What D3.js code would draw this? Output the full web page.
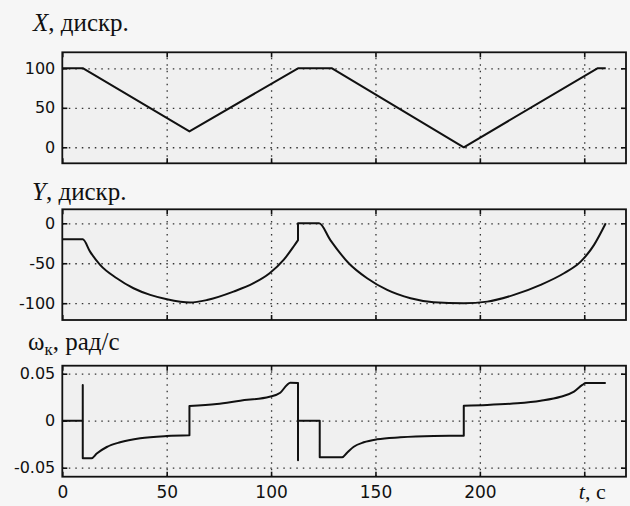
<!DOCTYPE html>
<html><head><meta charset="utf-8">
<script src="https://cdn.jsdelivr.net/npm/d3@7"></script>
<style>body{margin:0;background:#f6f6f6;} svg{display:block;}</style>
</head><body><svg id="c" width="630" height="506"></svg>
<script>
// ---- data ----
const timeTicks = [0, 50, 100, 150, 200, 250];
const timeTickLabels = ["0", "50", "100", "150", "200", ""];
const timeAxisLabel = ["t", ", с"];

const xTicks = [0, 50, 100];
const xTickLabels = ["0", "50", "100"];
const xTime = [0, 10, 60.9, 112.9, 129.2, 192.3, 256.3, 260.3];
const xVals = [100, 100, 20, 100, 100, 0, 100, 100];

const yTicks = [-100, -50, 0];
const yTickLabels = ["-100", "-50", "0"];
const yTime = [0, 9.8, 13.3, 18.1, 26.1, 34.1, 42.1, 50.1, 61.2, 69.3, 82, 91.6, 99.3, 106, 110.8, 112.9,
               112.9, 123, 128.4, 137.2, 146, 155.6, 166.8, 177.9, 192.3, 203.5, 216.3, 229.1, 240.3, 248.3, 254.7, 260.3];
const yVals = [-20, -20, -35.5, -52, -68.8, -81.3, -89.6, -95, -99, -96, -85.5, -75, -62.5, -45.9, -29, -21,
               0, 0, -21, -50, -68.8, -83.4, -93.8, -98.8, -100, -98, -89.6, -77, -62.5, -48, -27, 0];

const wTicks = [-0.05, 0, 0.05];
const wTickLabels = ["-0.05", "0", "0.05"];
const wTime = [0, 9.8, 9.8, 9.8, 14, 16.5, 21.3, 27.7, 37.3, 50.1, 60.9,
               60.9, 74, 85.2, 99.3, 104.4, 107.6, 109.2, 112.9,
               112.9, 112.9, 123.3, 123.3, 134, 136.4, 139.6, 144.4, 150.8, 161.9, 177.9, 192.3,
               192.3, 203.5, 217.9, 229.1, 238.7, 245.1, 249.1, 250.7, 260.3];
const wVals = [0, 0, 0.038, -0.040, -0.040, -0.035, -0.028, -0.023, -0.0187, -0.0163, -0.0155,
               0.0156, 0.0178, 0.0213, 0.0255, 0.0298, 0.038, 0.0404, 0.040,
               -0.042, 0, 0, -0.039, -0.039, -0.034, -0.0277, -0.023, -0.0198, -0.0177, -0.0163, -0.016,
               0.016, 0.0167, 0.0185, 0.0213, 0.0255, 0.0309, 0.038, 0.040, 0.040];

// ---- layout ----
const svg = d3.select("#c");
const L = 62.3, R = 626;
const x = d3.scaleLinear([0, 270], [L, R]);

function buildPath(ts, vs, y, curve) {
  const line = d3.line().curve(curve);
  const runs = []; let cur = [];
  ts.forEach((t, i) => {
    if (i > 0 && t <= ts[i - 1]) { runs.push(cur); cur = []; }
    cur.push([x(t), y(vs[i])]);
  });
  runs.push(cur);
  return runs.map((r, i) => {
    const s = line(r).replace(/Z$/, "");
    return i ? "L" + s.slice(1) : s;
  }).join("");
}

function panel(cfg) {
  const y = d3.scaleLinear(cfg.domain, [cfg.bottom, cfg.top]);
  const g = svg.append("g");
  const h = cfg.bottom - cfg.top, w = R - L;
  g.append("rect").attr("x", L).attr("y", cfg.top).attr("width", w).attr("height", h).attr("fill", "#f0f0f0");

  const dotted = s => {
    s.select(".domain").remove();
    s.selectAll(".tick line").attr("stroke", "#333").attr("stroke-width", 1.3).attr("stroke-dasharray", "1.5,5");
  };
  g.append("g").attr("transform", `translate(0,${cfg.bottom})`)
    .call(d3.axisBottom(x).tickValues(timeTicks.filter(t => t > 0)).tickSize(-h).tickFormat(""))
    .call(dotted);
  g.append("g").attr("transform", `translate(${L},0)`)
    .call(d3.axisLeft(y).tickValues(cfg.ticks).tickSize(-w).tickFormat(""))
    .call(dotted);

  g.append("path").attr("d", buildPath(cfg.t, cfg.v, y, cfg.curve))
    .attr("fill", "none").attr("stroke", "#111").attr("stroke-width", 2).attr("stroke-linejoin", "round");

  const solid = s => {
    s.select(".domain").remove();
    s.selectAll(".tick line").attr("stroke", "#111").attr("stroke-width", 1.6);
    s.selectAll("text").attr("fill", "#111");
  };
  g.append("g").attr("transform", `translate(${L},0)`)
    .call(d3.axisLeft(y).tickValues(cfg.ticks).tickSizeInner(-5).tickSizeOuter(0).tickPadding(7)
      .tickFormat((d, i) => cfg.labels[i]))
    .call(solid)
    .call(s => s.selectAll("text").attr("font-family", "DejaVu Sans").attr("font-size", 16));
  g.append("g").attr("transform", `translate(${R},0)`)
    .call(d3.axisRight(y).tickValues(cfg.ticks).tickSizeInner(-5).tickSizeOuter(0).tickFormat(""))
    .call(solid);
  g.append("g").attr("transform", `translate(0,${cfg.top})`)
    .call(d3.axisTop(x).tickValues(timeTicks).tickSizeInner(-5).tickSizeOuter(0).tickFormat(""))
    .call(solid);
  g.append("g").attr("transform", `translate(0,${cfg.bottom})`)
    .call(d3.axisBottom(x).tickValues(timeTicks).tickSizeInner(-5).tickSizeOuter(0).tickPadding(9)
      .tickFormat((d, i) => cfg.showX ? timeTickLabels[i] : ""))
    .call(solid)
    .call(s => s.selectAll("text").attr("font-family", "DejaVu Sans").attr("font-size", 17));

  g.append("rect").attr("x", L).attr("y", cfg.top).attr("width", w).attr("height", h)
    .attr("fill", "none").attr("stroke", "#111").attr("stroke-width", 1.8);

  const t = g.append("text").attr("x", cfg.titleX).attr("y", cfg.titleY)
    .attr("font-family", "Liberation Serif").attr("font-size", 25).attr("fill", "#111");
  cfg.title(t);
}

panel({ top: 52.3, bottom: 163.3, domain: [-20.3, 120.3], ticks: xTicks, labels: xTickLabels,
  t: xTime, v: xVals, curve: d3.curveLinear, showX: false, titleX: 33, titleY: 31,
  title: t => { t.append("tspan").attr("font-style", "italic").text("X"); t.append("tspan").text(", дискр."); } });
panel({ top: 209.3, bottom: 320, domain: [-121, 17.5], ticks: yTicks, labels: yTickLabels,
  t: yTime, v: yVals, curve: d3.curveMonotoneX, showX: false, titleX: 32, titleY: 200,
  title: t => { t.append("tspan").attr("font-style", "italic").text("Y"); t.append("tspan").text(", дискр."); } });
panel({ top: 365.7, bottom: 476.7, domain: [-0.0596, 0.0585], ticks: wTicks, labels: wTickLabels,
  t: wTime, v: wVals, curve: d3.curveMonotoneX, showX: true, titleX: 28, titleY: 350,
  title: t => {
    t.append("tspan").text("ω");
    t.append("tspan").attr("font-size", 17).attr("dy", 5).text("к");
    t.append("tspan").attr("dy", -5).text(", рад/с");
  } });

const tl = svg.append("text").attr("x", x(250) + 8).attr("y", 499).attr("text-anchor", "middle")
  .attr("font-family", "Liberation Serif").attr("font-size", 22).attr("fill", "#111");
tl.append("tspan").attr("font-style", "italic").text(timeAxisLabel[0]);
tl.append("tspan").text(timeAxisLabel[1]);
</script>
</body></html>
